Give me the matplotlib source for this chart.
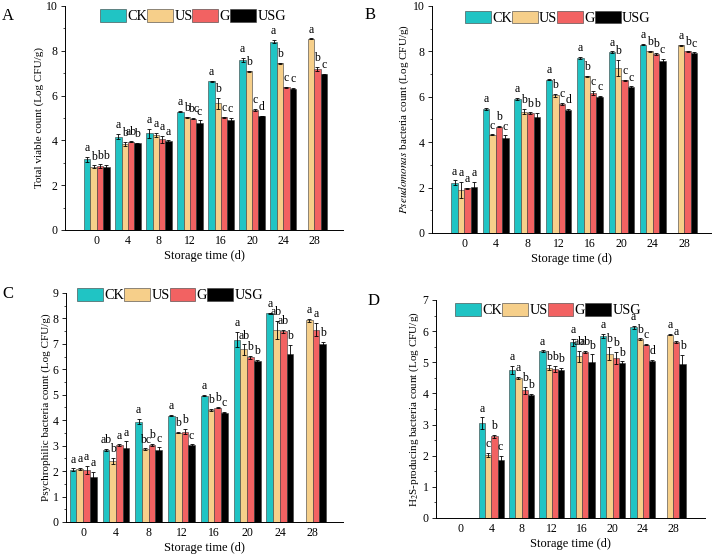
import numpy as np
import matplotlib
matplotlib.use("Agg")
import matplotlib.pyplot as plt
from matplotlib.ticker import MultipleLocator

plt.rcParams['font.family'] = ['Liberation Serif', 'DejaVu Serif']
plt.rcParams['mathtext.fontset'] = 'stix'

nan = np.nan
days = [0, 4, 8, 12, 16, 20, 24, 28]
groups = ["CK", "US", "G", "USG"]
colors = ["#20c4c4", "#f6cf8a", "#f26262", "#000000"]

# Panel A: Total viable count
a_ck  = [3.15, 4.17, 4.32, 5.28, 6.64, 7.59, 8.41, nan]
a_us  = [2.83, 3.84, 4.24, 5.03, 5.65, 7.08, 7.44, 8.53]
a_g   = [2.85, 3.94, 4.05, 4.97, 5.03, 5.36, 6.37, 7.20]
a_usg = [2.80, 3.87, 3.97, 4.79, 4.91, 5.09, 6.31, 6.96]
a_ck_e  = [0.12, 0.13, 0.20, 0.03, 0.03, 0.08, 0.08, nan]
a_us_e  = [0.05, 0.10, 0.10, 0.03, 0.25, 0.02, 0.02, 0.02]
a_g_e   = [0.08, 0.03, 0.15, 0.03, 0.03, 0.03, 0.02, 0.08]
a_usg_e = [0.12, 0.03, 0.03, 0.10, 0.08, 0.02, 0.02, 0.02]
a_ck_l  = ["a", "a", "a", "a", "a", "a", "a", ""]
a_us_l  = ["b", "b", "a", "b", "b", "b", "b", "a"]
a_g_l   = ["b", "ab", "a", "bc", "c", "c", "c", "b"]
a_usg_l = ["b", "b", "a", "c", "c", "d", "c", "c"]

# Panel B: Pseudomonas
b_ck  = [2.22, 5.46, 5.91, 6.75, 7.71, 7.97, 8.29, nan]
b_us  = [1.90, 4.32, 5.35, 6.06, 6.90, 7.26, 8.00, 8.26]
b_g   = [1.97, 4.69, 5.28, 5.69, 6.16, 6.72, 7.88, 8.00]
b_usg = [2.01, 4.18, 5.13, 5.40, 6.00, 6.41, 7.59, 7.93]
b_ck_e  = [0.10, 0.05, 0.03, 0.03, 0.05, 0.03, 0.03, nan]
b_us_e  = [0.35, 0.02, 0.10, 0.08, 0.03, 0.35, 0.03, 0.02]
b_g_e   = [0.03, 0.03, 0.03, 0.05, 0.10, 0.03, 0.05, 0.03]
b_usg_e = [0.25, 0.12, 0.15, 0.08, 0.03, 0.05, 0.08, 0.03]
b_ck_l  = ["a", "a", "a", "a", "a", "a", "a", ""]
b_us_l  = ["a", "c", "b", "b", "b", "b", "b", "a"]
b_g_l   = ["a", "b", "b", "c", "c", "c", "b", "b"]
b_usg_l = ["a", "c", "b", "d", "c", "c", "c", "c"]

# Panel C: Psychrophilic
c_ck  = [2.06, 2.83, 3.94, 4.18, 4.97, 7.16, 8.20, nan]
c_us  = [2.08, 2.40, 2.86, 3.51, 4.40, 6.78, 7.56, 7.92]
c_g   = [2.04, 3.02, 3.02, 3.55, 4.49, 6.47, 7.49, 7.56]
c_usg = [1.77, 2.92, 2.83, 3.02, 4.30, 6.33, 6.62, 7.00]
c_ck_e  = [0.05, 0.03, 0.10, 0.02, 0.03, 0.30, 0.03, nan]
c_us_e  = [0.05, 0.12, 0.03, 0.02, 0.05, 0.20, 0.35, 0.05]
c_g_e   = [0.15, 0.03, 0.05, 0.10, 0.03, 0.05, 0.05, 0.25]
c_usg_e = [0.20, 0.25, 0.10, 0.03, 0.03, 0.05, 0.35, 0.07]
c_ck_l  = ["a", "ab", "a", "a", "a", "a", "a", ""]
c_us_l  = ["a", "b", "bc", "b", "b", "ab", "ab", "a"]
c_g_l   = ["a", "a", "b", "b", "b", "b", "ab", "a"]
c_usg_l = ["a", "a", "c", "c", "c", "b", "b", "b"]

# Panel D: H2S-producing
d_ck  = [nan, 3.05, 4.75, 5.36, 5.64, 5.85, 6.13, nan]
d_us  = [nan, 2.03, 4.49, 4.83, 5.19, 5.28, 5.75, 5.89]
d_g   = [nan, 2.62, 4.10, 4.78, 5.33, 5.13, 5.57, 5.65]
d_usg = [nan, 1.86, 3.95, 4.75, 5.00, 4.98, 5.05, 4.94]
d_ck_e  = [nan, 0.18, 0.13, 0.02, 0.12, 0.06, 0.05, nan]
d_us_e  = [nan, 0.06, 0.03, 0.07, 0.18, 0.20, 0.02, 0.02]
d_g_e   = [nan, 0.05, 0.12, 0.10, 0.03, 0.20, 0.03, 0.03]
d_usg_e = [nan, 0.13, 0.03, 0.08, 0.25, 0.05, 0.03, 0.30]
d_ck_l  = ["", "a", "a", "a", "a", "a", "a", ""]
d_us_l  = ["", "c", "a", "b", "ab", "b", "b", "a"]
d_g_l   = ["", "b", "b", "b", "ab", "b", "c", "a"]
d_usg_l = ["", "c", "b", "b", "b", "b", "d", "b"]

panels = [
    dict(tag="A", vals=[a_ck, a_us, a_g, a_usg], errs=[a_ck_e, a_us_e, a_g_e, a_usg_e],
         labs=[a_ck_l, a_us_l, a_g_l, a_usg_l], ylim=10, major=2, minor=1,
         ylabel="Total viable count (Log CFU/g)",
         pos=[0.0905, 0.5856, 0.3872, 0.4036], xlim=(-4.1, 31.7),
         leg=(0.126, 0.985), tagpos=(0.003, 0.985)),
    dict(tag="B", vals=[b_ck, b_us, b_g, b_usg], errs=[b_ck_e, b_us_e, b_g_e, b_usg_e],
         labs=[b_ck_l, b_us_l, b_g_l, b_usg_l], ylim=10, major=2, minor=1,
         ylabel=r"$\it{Pseudomonas}$ bacteria count (Log CFU/g)",
         pos=[0.6017, 0.5802, 0.3886, 0.4090], xlim=(-4.1, 31.4),
         leg=(0.118, 0.98), tagpos=(0.508, 0.988)),
    dict(tag="C", vals=[c_ck, c_us, c_g, c_usg], errs=[c_ck_e, c_us_e, c_g_e, c_usg_e],
         labs=[c_ck_l, c_us_l, c_g_l, c_usg_l], ylim=9, major=1, minor=0.5,
         ylabel="Psychrophilic bacteria count (Log CFU/g)",
         pos=[0.0919, 0.0595, 0.3858, 0.4126], xlim=(-2.1, 31.7),
         leg=(0.040, 1.02), tagpos=(0.003, 0.485)),
    dict(tag="D", vals=[d_ck, d_us, d_g, d_usg], errs=[d_ck_e, d_us_e, d_g_e, d_usg_e],
         labs=[d_ck_l, d_us_l, d_g_l, d_usg_l], ylim=7, major=1, minor=0.5,
         ylabel=r"H$_2$S-producing bacteria count (Log CFU/g)",
         pos=[0.6072, 0.0667, 0.3747, 0.3928], xlim=(-3.3, 32.2),
         leg=(0.071, 0.985), tagpos=(0.512, 0.472)),
]

fig = plt.figure(figsize=(7.18, 5.55), dpi=100)
bw = 0.82
x = np.array(days, dtype=float)

for p in panels:
    ax = fig.add_axes(p["pos"])
    handles = []
    for i, (v, e, lab, col) in enumerate(zip(p["vals"], p["errs"], p["labs"], colors)):
        xi = x + (i - 1.5) * bw
        v = np.array(v, dtype=float)
        e = np.array(e, dtype=float)
        bars = ax.bar(xi, v, width=bw, color=col, edgecolor="#3a3a3a", linewidth=0.4,
                      label=groups[i], zorder=2)
        ax.errorbar(xi, v, yerr=e, fmt="none", ecolor="black", elinewidth=0.6,
                    capsize=1.5, capthick=0.6, zorder=3)
        handles.append(bars)
        for xx, vv, ee, ll in zip(xi, v, e, lab):
            if ll and not np.isnan(vv):
                ax.annotate(ll, (xx, vv + ee), xytext=(0, 2), textcoords="offset points",
                            ha="center", va="bottom", fontsize=8.5)
    ax.set_xlim(*p["xlim"])
    ax.set_ylim(0, p["ylim"])
    ax.set_xticks(days)
    ax.set_xticklabels([str(d) for d in days], fontsize=8.5)
    ax.yaxis.set_major_locator(MultipleLocator(p["major"]))
    ax.yaxis.set_minor_locator(MultipleLocator(p["minor"]))
    ax.tick_params(axis="y", which="major", direction="out", length=3, width=0.6,
                   labelsize=8.5, pad=2.5)
    ax.tick_params(axis="y", which="minor", direction="out", length=1.8, width=0.5)
    ax.tick_params(axis="x", length=0, pad=3.5)
    for s in ["top", "right"]:
        ax.spines[s].set_visible(False)
    for s in ["left", "bottom"]:
        ax.spines[s].set_linewidth(0.7)
    ax.set_xlabel("Storage time (d)", fontsize=9, labelpad=2.5)
    ax.set_ylabel(p["ylabel"], fontsize=8.0, labelpad=1)
    ax.legend(handles=handles, labels=groups, loc="upper left", bbox_to_anchor=p["leg"],
              ncol=4, frameon=False, fontsize=10.3, handlelength=1.8, handleheight=0.95,
              handletextpad=0.1, columnspacing=0.0, borderpad=0, borderaxespad=0)
    fig.text(p["tagpos"][0], p["tagpos"][1], p["tag"], fontsize=12, ha="left", va="top")

fig.savefig("out.png", dpi=100)
